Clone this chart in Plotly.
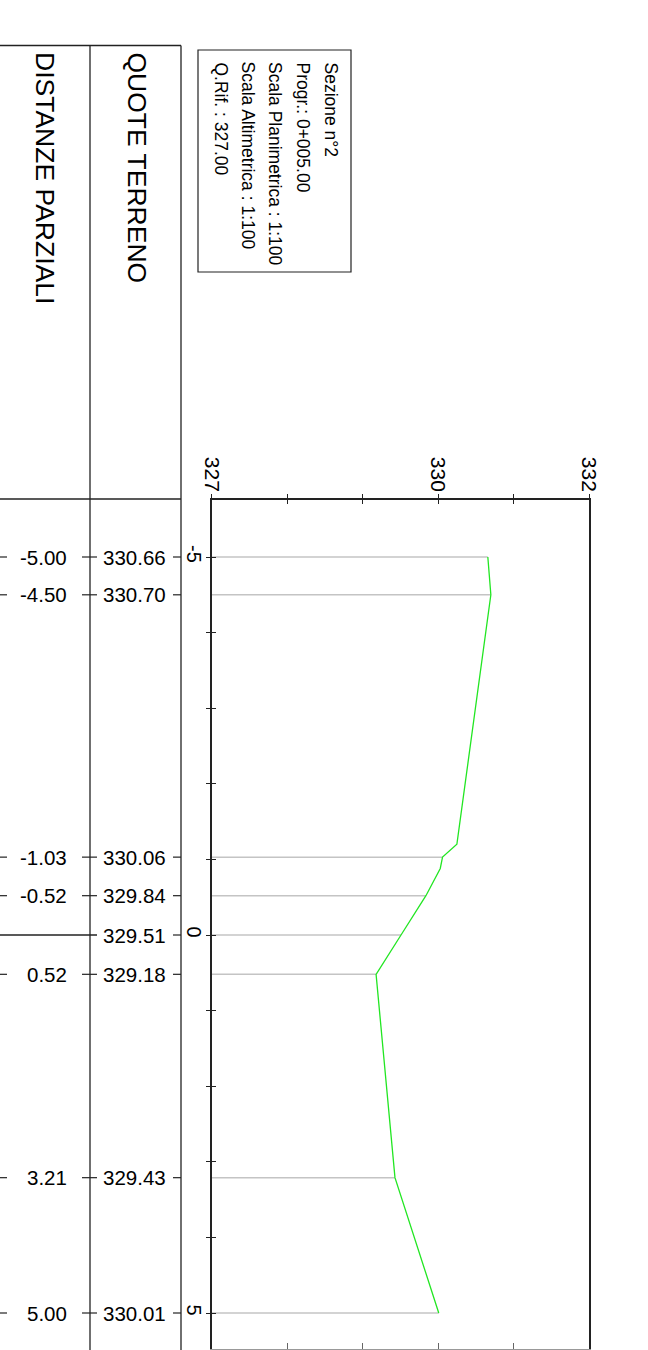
import plotly.graph_objects as go

# ---- data ----
distances = [-5.00, -4.50, -1.03, -0.52, 0.00, 0.52, 3.21, 5.00]
elevations = [330.66, 330.70, 330.06, 329.84, 329.51, 329.18, 329.43, 330.01]
profile_dist = [-5.00, -4.50, -1.20, -1.03, -0.88, -0.52, 0.00, 0.52, 3.21, 5.00]
profile_elev = [330.66, 330.70, 330.25, 330.06, 330.03, 329.84, 329.51, 329.18, 329.43, 330.01]
elev_ticks = [327, 328, 329, 330, 331, 332]
elev_ticktext = ["327", "", "", "330", "", "332"]
dist_ticks = [-5, -4, -3, -2, -1, 0, 1, 2, 3, 4, 5]
dist_ticktext = ["-5", "", "", "", "", "0", "", "", "", "", "5"]
info_lines = ["Sezione n°2", "Progr.: 0+005.00", "Scala Planimetrica : 1:100",
              "Scala Altimetrica : 1:100", "Q.Rif. : 327.00"]
header_dist = "DISTANZE PARZIALI"
header_quote = "QUOTE TERRENO"
ref_elev = 327.0

W, H = 648, 1350
FONT = "Liberation Sans, Arial, sans-serif"


def px(x):
    return x / W


def py(y):
    return 1 - y / H


fig = go.Figure()

# gray vertical reference lines (drawn horizontally after rotation)
gx, gy = [], []
for d, e in zip(distances, elevations):
    gx += [ref_elev, e, None]
    gy += [d, d, None]
fig.add_trace(go.Scatter(x=gx, y=gy, mode="lines", line=dict(color="#c4c4c4", width=1.5),
                         hoverinfo="skip", showlegend=False))
# terrain profile
fig.add_trace(go.Scatter(x=profile_elev, y=profile_dist, mode="lines",
                         line=dict(color="#22e622", width=1.3), showlegend=False))
# helper traces for overlay axes
fig.add_trace(go.Scatter(x=[None], y=[None], xaxis="x2", yaxis="y2", showlegend=False))
fig.add_trace(go.Scatter(x=[None], y=[None], xaxis="x3", yaxis="y", showlegend=False))

xdom = [px(211.5), px(589)]
ydom = [1 / H, py(500)]
yrange = [(1349 - 935) / 75.6, (500 - 935) / 75.6]

axcol = "#222"
common = dict(automargin=False, showgrid=False, zeroline=False)
fig.update_layout(
    width=W, height=H, margin=dict(l=0, r=0, t=0, b=0, pad=0, autoexpand=False),
    paper_bgcolor="white", plot_bgcolor="white",
    font=dict(family=FONT, color="black"),
    showlegend=False,
    xaxis=dict(domain=xdom, range=[327, 332], side="top", anchor="y",
               tickvals=elev_ticks, ticktext=elev_ticktext, tickangle=90,
               ticks="outside", ticklen=4, tickwidth=1.3, tickcolor=axcol,
               ticklabelstandoff=-5,
               showline=True, linecolor=axcol, linewidth=1.5,
               tickfont=dict(size=21, family=FONT), **common),
    xaxis2=dict(overlaying="x", range=[327, 332], side="top", anchor="y2",
                tickvals=elev_ticks, ticks="inside", ticklen=4, tickwidth=1.3, tickcolor=axcol,
                showticklabels=False, showline=False, **common),
    xaxis3=dict(overlaying="x", range=[327, 332], side="bottom", anchor="y",
                tickvals=elev_ticks, ticks="inside", ticklen=6, tickwidth=1.3, tickcolor="#666",
                showticklabels=False, showline=True, linecolor="#999", linewidth=1.5, **common),
    yaxis=dict(domain=ydom, range=yrange, anchor="x",
               tickvals=dist_ticks, ticktext=dist_ticktext, tickangle=90,
               ticks="outside", ticklen=4, tickwidth=1.3, tickcolor=axcol,
               ticklabelstandoff=-5,
               showline=True, mirror=True, linecolor=axcol, linewidth=1.5,
               tickfont=dict(size=20, family=FONT), **common),
    yaxis2=dict(overlaying="y", range=yrange, anchor="x", side="left",
                tickvals=dist_ticks, ticks="inside", ticklen=4, tickwidth=1.3, tickcolor=axcol,
                showticklabels=False, showline=False, **common),
)

shapes = []
lc = "#222"
# table frame
shapes.append(dict(type="line", xref="paper", yref="paper", x0=0, x1=px(181), y0=py(45.5), y1=py(45.5),
                   line=dict(color=lc, width=1.3)))
shapes.append(dict(type="line", xref="paper", yref="paper", x0=0, x1=px(181), y0=py(499), y1=py(499),
                   line=dict(color=lc, width=1.3)))
for cx in (90, 181):
    shapes.append(dict(type="line", xref="paper", yref="paper", x0=px(cx), x1=px(cx), y0=0, y1=py(45.5),
                       line=dict(color=lc, width=1.3)))
# info box
shapes.append(dict(type="rect", xref="paper", yref="paper", x0=px(198), x1=px(351), y0=py(50), y1=py(272),
                   line=dict(color=lc, width=1.2)))

annotations = []
for d, e in zip(distances, elevations):
    if d != 0:
        shapes.append(dict(type="line", xref="paper", yref="y", x0=0, x1=px(7), y0=d, y1=d,
                           line=dict(color=lc, width=1.2)))
        shapes.append(dict(type="line", xref="paper", yref="y", x0=px(82), x1=px(97), y0=d, y1=d,
                           line=dict(color=lc, width=1.2)))
        annotations.append(dict(xref="paper", yref="y", x=px(69), y=d, text=f"{d:.2f}",
                                xanchor="right", yanchor="middle", showarrow=False,
                                font=dict(size=20.5, family=FONT, color="black")))
    else:
        shapes.append(dict(type="line", xref="paper", yref="y", x0=0, x1=px(97), y0=d, y1=d,
                           line=dict(color=lc, width=1.3)))
    shapes.append(dict(type="line", xref="paper", yref="y", x0=px(173), x1=px(181), y0=d, y1=d,
                       line=dict(color=lc, width=1.2)))
    annotations.append(dict(xref="paper", yref="y", x=px(168), y=d, text=f"{e:.2f}",
                            xanchor="right", yanchor="middle", showarrow=False,
                            font=dict(size=20.5, family=FONT, color="black")))

# headers
annotations.append(dict(xref="paper", yref="paper", x=px(45), y=py(50), text=header_dist, textangle=90,
                        xanchor="center", yanchor="top", showarrow=False,
                        font=dict(size=26.5, family=FONT, color="black")))
annotations.append(dict(xref="paper", yref="paper", x=px(136), y=py(50), text=header_quote, textangle=90,
                        xanchor="center", yanchor="top", showarrow=False,
                        font=dict(size=26.5, family=FONT, color="black")))
# info text
for i, t in enumerate(info_lines):
    annotations.append(dict(xref="paper", yref="paper", x=px(330 - 27.5 * i), y=py(60), text=t, textangle=90,
                            xanchor="center", yanchor="top", showarrow=False,
                            font=dict(size=17.5, family=FONT, color="black")))

fig.update_layout(shapes=shapes, annotations=annotations)
fig.write_html("out.html", config={"displayModeBar": False},
               post_script="document.body.style.margin='0px';")
